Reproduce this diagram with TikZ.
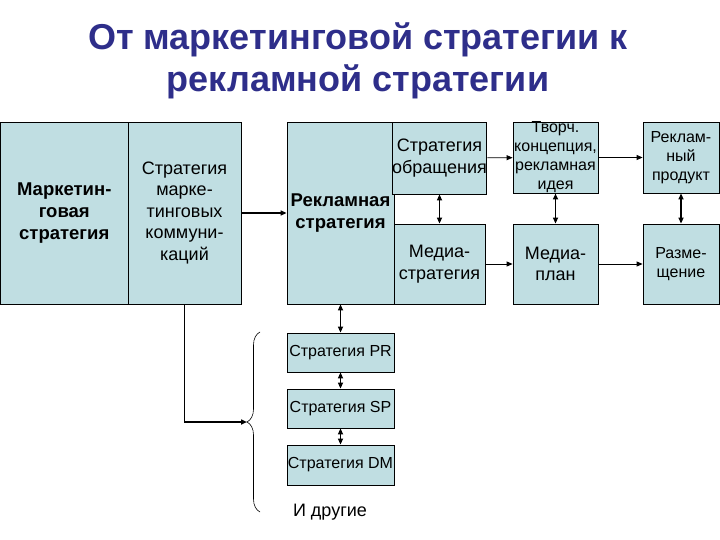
\documentclass[tikz,border=0pt]{standalone}
\usepackage{fontspec}
\setmainfont{Liberation Sans}
\usetikzlibrary{arrows.meta, decorations.pathreplacing}
\definecolor{boxfill}{RGB}{192,222,226}
\definecolor{titleblue}{RGB}{46,46,138}

\begin{document}
\begin{tikzpicture}[x=1pt, y=-1pt,
    box/.style={draw, fill=boxfill, line width=0.8pt, inner sep=0pt,
      align=center, font=\fontsize{18}{21.5}\selectfont},
    smalltext/.style={font=\fontsize{16}{19}\selectfont},
    arr/.style={-{Triangle[length=6pt,width=5pt]}, line width=0.8pt},
    darr/.style={{Triangle[length=6pt,width=5pt]}-{Triangle[length=6pt,width=5pt]},
      line width=1.6pt}]
  \useasboundingbox (0,0) rectangle (720,540);
  % Title
  \node[titleblue, align=center, font=\fontsize{36}{42}\selectfont\bfseries]
    (title) at (358,61) {От маркетинговой стратегии к\\рекламной стратегии};
  % Left blocks
  \node[box, minimum width=127.5, minimum height=182, font=\fontsize{18.5}{22}\selectfont\bfseries]
    (mark) at (64.25,213) {Маркетин-\\говая\\стратегия};
  \node[box, minimum width=113, minimum height=182]
    (komm) at (184.5,213) {Стратегия\\марке-\\тинговых\\коммуни-\\каций};
  % Advertising strategy block
  \node[box, minimum width=107, minimum height=182, font=\fontsize{18.5}{22}\selectfont\bfseries]
    (rekl) at (340.5,213) {Рекламная\\стратегия};
  \node[box, minimum width=91, minimum height=72] (obr) at (439.5,158) {Стратегия\\обращения};
  \node[box, minimum width=91, minimum height=80] (media) at (439.5,264) {Медиа-\\стратегия};
  % Right columns
  \node[box, smalltext, minimum width=85, minimum height=71]
    (tvorch) at (555.5,157.5) {Творч.\\концепция,\\рекламная\\идея};
  \node[box, minimum width=85, minimum height=80] (mplan) at (555.5,264) {Медиа-\\план};
  \node[box, smalltext, minimum width=76, minimum height=71]
    (prod) at (681,157.5) {Реклам-\\ный\\продукт};
  \node[box, smalltext, minimum width=76, minimum height=80] (razm) at (681,264) {Разме-\\щение};
  % Other strategies
  \node[box, smalltext, minimum width=107, minimum height=39] (pr) at (340.5,352.5) {Стратегия PR};
  \node[box, smalltext, minimum width=107, minimum height=39] (sp) at (340.5,408.5) {Стратегия SP};
  \node[box, smalltext, minimum width=107, minimum height=40] (dm) at (340.5,465) {Стратегия DM};
  \node[font=\fontsize{18}{21}\selectfont] (others) at (330,512) {И другие};
  % Brace
  \coordinate (bbot) at (260,512);
  \coordinate (btop) at (260,332);
  \coordinate (btip) at (247,422);
  \draw[line width=0.6pt, decorate, decoration={brace, amplitude=13pt}] (bbot) -- (btop);
  % Connectors
  \draw[arr, line width=1.6pt] (komm) -- (rekl);
  \draw[arr, line width=1.6pt] (komm.south) |- (btip);
  \draw[darr] (obr) -- (media);
  \draw[arr] (obr) -- (tvorch);
  \draw[arr] (media) -- (mplan);
  \draw[arr] (tvorch) -- (prod);
  \draw[arr] (mplan) -- (razm);
  \draw[darr] (tvorch) -- (mplan);
  \draw[darr] (prod) -- (razm);
  \draw[darr] (rekl) -- (pr);
  \draw[darr] (pr) -- (sp);
  \draw[darr] (sp) -- (dm);
\end{tikzpicture}
\end{document}
